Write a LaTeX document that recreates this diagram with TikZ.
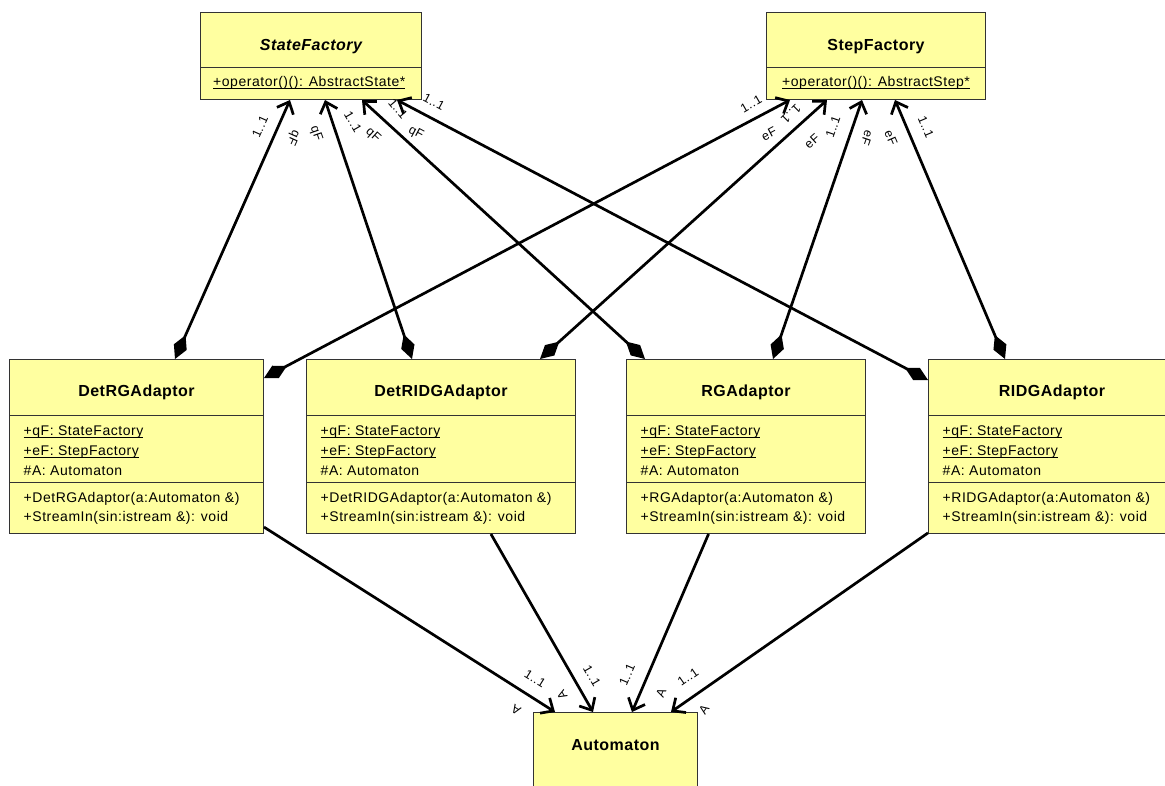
\documentclass[tikz,border=0pt]{standalone}
\usepackage{fontspec}
\setmainfont{Liberation Sans}
\newfontfamily\umlfont[LetterSpace=3.8]{Liberation Sans}
\newfontfamily\umltitlefont[LetterSpace=3]{Liberation Sans}
\usetikzlibrary{arrows.meta,calc}
\definecolor{clsfill}{HTML}{FFFFA0}
\definecolor{clsborder}{HTML}{333333}
\newcommand\ulined[1]{\setbox0\hbox{#1}\rlap{\rule[-2.4pt]{\wd0}{0.9pt}}\box0}
\tikzset{
  cls/.style={draw=clsborder, fill=clsfill, line width=1pt, inner sep=0pt, anchor=north west},
  divline/.style={draw=clsborder, line width=1pt},
  ctitle/.style={font=\umltitlefont\fontsize{16}{19}\selectfont\bfseries, inner sep=0pt, anchor=base},
  member/.style={font=\umlfont\fontsize{14}{16}\selectfont, inner sep=0pt, anchor=base west},
  mult/.style={font=\umlfont\fontsize{12.5}{14}\selectfont, inner sep=0pt},
  comp/.style={line width=2.7pt, {Diamond[length=26pt,width=14pt]}-{Straight Barb[length=10pt,width=18pt]}},
  assoc/.style={line width=2.7pt, -{Straight Barb[length=10pt,width=18pt]}},
}
\newcommand\adaptorbox[5]{%
  \node[cls, minimum width={(#3-#2)*1pt}, minimum height=174pt] (#1) at (#2,359) {};
  \draw[divline] ([yshift=-56pt]#1.north west) -- ([yshift=-56pt]#1.north east);
  \draw[divline] ([yshift=-123pt]#1.north west) -- ([yshift=-123pt]#1.north east);
  \node[ctitle] (#1-title) at ([yshift=-37pt]#1.north) {#4};
  \node[member] (#1-a1) at ([xshift=14.5pt,yshift=-76pt]#1.north west) {\ulined{+qF: StateFactory}};
  \node[member] (#1-a2) at ([xshift=14.5pt,yshift=-96pt]#1.north west) {\ulined{+eF: StepFactory}};
  \node[member] (#1-a3) at ([xshift=14.5pt,yshift=-116pt]#1.north west) {\#A: Automaton};
  \node[member] (#1-m1) at ([xshift=14.5pt,yshift=-143pt]#1.north west) {+#5(a:Automaton \&)};
  \node[member] (#1-m2) at ([xshift=14.5pt,yshift=-162pt]#1.north west) {+StreamIn(sin:istream \&): void};
}
\begin{document}
\begin{tikzpicture}[x=1pt,y=-1pt]
\useasboundingbox (0,0) rectangle (1165,785);
\clip (0,0) rectangle (1165,785);

% factories
\node[cls, minimum width=221pt, minimum height=87pt] (sf) at (200,12) {};
\draw[divline] ([yshift=-55pt]sf.north west) -- ([yshift=-55pt]sf.north east);
\node[ctitle] (sf-title) at ([yshift=-38pt]sf.north) {\itshape StateFactory};
\node[member] (sf-op) at ([xshift=13pt,yshift=-74pt]sf.north west) {\ulined{+operator()(): AbstractState*}};

\node[cls, minimum width=219pt, minimum height=87pt] (st) at (766,12) {};
\draw[divline] ([yshift=-55pt]st.north west) -- ([yshift=-55pt]st.north east);
\node[ctitle] (st-title) at ([yshift=-38pt]st.north) {StepFactory};
\node[member] (st-op) at ([xshift=16pt,yshift=-74pt]st.north west) {\ulined{+operator()(): AbstractStep*}};

% adaptors
\adaptorbox{drg}{9}{263}{DetRGAdaptor}{DetRGAdaptor}
\adaptorbox{drid}{306}{575}{DetRIDGAdaptor}{DetRIDGAdaptor}
\adaptorbox{rg}{626}{865}{RGAdaptor}{RGAdaptor}
\adaptorbox{ridg}{928}{1175}{RIDGAdaptor}{RIDGAdaptor}

% automaton
\node[cls, minimum width=164pt, minimum height=120pt] (aut) at (533,712) {};
\node[ctitle] (aut-title) at ([yshift=-38pt]aut.north) {Automaton};

% compositions
\draw[comp] ([xshift=166pt]drg.north west) -- ([xshift=90pt]sf.south west);
\draw[comp] ([xshift=106pt]drid.north west) -- ([xshift=125pt]sf.south west);
\draw[comp] ([xshift=19pt]rg.north west) -- ([xshift=162pt]sf.south west);
\draw[comp] ([yshift=-21pt]ridg.north west) -- ([xshift=197pt]sf.south west);
\draw[comp] ([yshift=-19pt]drg.north east) -- ([xshift=24pt]st.south west);
\draw[comp] ([xshift=234pt]drid.north west) -- ([xshift=61pt]st.south west);
\draw[comp] ([xshift=147pt]rg.north west) -- ([xshift=96pt]st.south west);
\draw[comp] ([xshift=77pt]ridg.north west) -- ([xshift=129pt]st.south west);

% associations
\draw[assoc] (drg) -- ([xshift=22pt]aut.north west);
\draw[assoc] (drid) -- ([xshift=60pt]aut.north west);
\draw[assoc] (rg) -- ([xshift=99pt]aut.north west);
\draw[assoc] (ridg) -- ([xshift=138pt]aut.north west);

% labels near StateFactory
\node[mult, rotate=66] (q1m) at (260,127) {1..1};
\node[mult, rotate=-114] (q1r) at (293,138) {qF};
\node[mult, rotate=-71] (q2r) at (316,134) {qF};
\node[mult, rotate=-60] (q2m) at (353,122) {1..1};
\node[mult, rotate=-42] (q3r) at (373,135) {qF};
\node[mult, rotate=-50] (q3m) at (398,109) {1..1};
\node[mult, rotate=-28] (q4r) at (416,133) {qF};
\node[mult, rotate=-28] (q4m) at (434,102) {1..1};

% labels near StepFactory
\node[mult, rotate=30] (e1m) at (751,104) {1..1};
\node[mult, rotate=28] (e1r) at (769,134) {eF};
\node[mult, rotate=-135] (e2m) at (791,114) {1..1};
\node[mult, rotate=42] (e2r) at (812,141) {eF};
\node[mult, rotate=71] (e3m) at (833,127) {1..1};
\node[mult, rotate=-109] (e3r) at (867,138) {eF};
\node[mult, rotate=-67] (e4r) at (891,138) {eF};
\node[mult, rotate=-67] (e4m) at (926,127) {1..1};

% labels near Automaton
\node[mult, rotate=-32] (a1m) at (535,679) {1..1};
\node[mult, rotate=148] (a1r) at (516,710) {A};
\node[mult, rotate=120] (a2r) at (562,695) {A};
\node[mult, rotate=-60] (a2m) at (592,676) {1..1};
\node[mult, rotate=67] (a3m) at (627,675) {1..1};
\node[mult, rotate=67] (a3r) at (661,693) {A};
\node[mult, rotate=35] (a4m) at (688,677) {1..1};
\node[mult, rotate=55] (a4r) at (704,710) {A};
\end{tikzpicture}
\end{document}
